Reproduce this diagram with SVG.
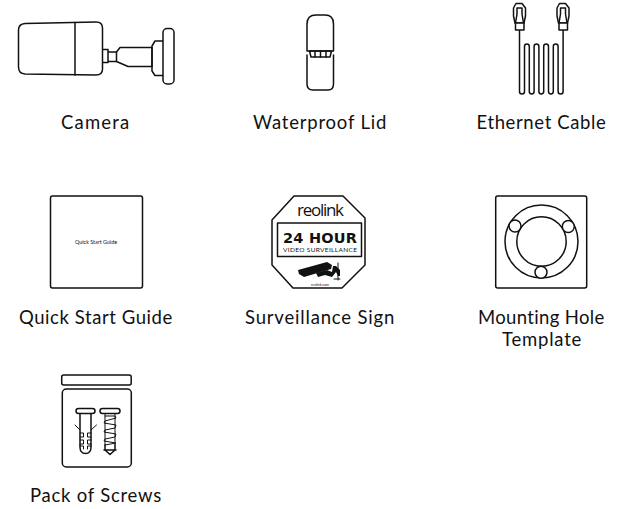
<svg xmlns="http://www.w3.org/2000/svg" width="636" height="509" viewBox="0 0 636 509">
<style>
.o{fill:none;stroke:#111;stroke-width:1.500;stroke-linejoin:round;stroke-linecap:round}
.th{fill:none;stroke:#111;stroke-width:1;stroke-linejoin:round;stroke-linecap:round}
.w{fill:#fff;stroke:#111;stroke-width:1.500;stroke-linejoin:round}
.t{font-family:"Lato","Noto Sans",sans-serif;font-size:18.500px;fill:#111;text-anchor:middle;letter-spacing:.7px}
.s{font-family:"Lato","Noto Sans",sans-serif;fill:#111;text-anchor:middle}
</style>
<rect width="636" height="509" fill="#fff"/>
<g id="camera">
<path class="o" d="M25 23.500L96 22Q102.500 22 102.500 28L102.500 69Q102.500 75 96 75L25 74Q18.500 73.500 18.500 67L18.500 30Q18.500 24 25 23.500Z"/>
<path class="o" d="M75 22.500V75"/>
<path class="o" d="M103 49.500H108V62.500H103M108 52H116.500V61.500H108"/>
<path class="o" d="M116.500 52L120 47.500H152V66.500H128L120 63L116.500 61.500"/>
<path class="o" d="M152 46L155 41H164V75.500H155L152 71Z"/>
<rect class="w" x="163" y="28.500" width="11" height="55.500" rx="4"/>
<text class="t" x="95.500" y="129" textLength="69">Camera</text>
</g>
<g id="waterproof-lid">
<path class="o" d="M307 51V24Q307 15 316 15H325Q333.500 15 333.500 24V51Z"/>
<path class="o" d="M307 55V84Q307 90 313 90H328Q333.500 90 333.500 84V55"/>
<path class="o" d="M309.500 51H331.500L330 57H311Z"/>
<path class="o" d="M315 51.500V57M320.500 51.500V57M326 51.500V57"/>
<text class="t" x="320" y="129" textLength="134">Waterproof Lid</text>
</g>
<g id="ethernet-cable">
<path class="o" d="M519.500 30V91.500A2.500 2.500 0 0 0 524.500 91.500V46.500A2.400 2.400 0 0 1 529.300 46.500V91.500A2.400 2.400 0 0 0 534.100 91.500V46.500A2.400 2.400 0 0 1 538.900 46.500V91.500A2.400 2.400 0 0 0 543.700 91.500V46.500A2.400 2.400 0 0 1 548.500 46.500V91.500A2.400 2.400 0 0 0 553.300 91.500V46.500A2.400 2.400 0 0 1 558.100 46.500V91.500A2.500 2.500 0 0 0 563.100 91.500V30"/>
<g id="plug-left">
<path class="w" d="M513.500 16V8L516 3.500H522L525.500 8V16L524 23H515Z"/>
<path class="o" d="M517 8H522V14L523.500 23M517 8V14L515.500 23"/>
<rect class="w" x="515.500" y="23" width="8.500" height="7"/>
</g>
<g id="plug-right">
<path class="w" d="M557 16V8L559.500 3.500H565.500L569 8V16L567.500 23H558.500Z"/>
<path class="o" d="M560.500 8H565.500V14L567 23M560.500 8V14L559 23"/>
<rect class="w" x="559" y="23" width="8.500" height="7"/>
</g>
<text class="t" x="541.500" y="129" textLength="130">Ethernet Cable</text>
</g>
<g id="quick-start-guide">
<rect class="o" x="50.500" y="196" width="92" height="92" rx="2"/>
<text class="s" x="96" y="244" font-size="5.400">Quick Start Guide</text>
<text class="t" x="96" y="324" textLength="154">Quick Start Guide</text>
</g>
<g id="surveillance-sign">
<path class="o" d="M272 220L294 196H343L365 218V265L342 288H293L272 265Z"/>
<rect class="o" x="277.500" y="223" width="84" height="33.500"/>
<text class="s" x="320.500" y="216" font-size="17" textLength="47" style="font-family:'Open Sans',sans-serif">reolink</text>
<text class="s" x="320" y="243" font-size="14.500" font-weight="700" textLength="74" style="font-family:'DejaVu Sans',sans-serif">24 HOUR</text>
<text class="s" x="320" y="251.500" font-size="6.500" textLength="74">VIDEO SURVEILLANCE</text>
<path fill="#111" d="M298 270L327 262L332 265L331 269L304 277L299 274Z"/>
<path fill="#111" d="M316 273L327 270L332 272L333 266H336L340 270V276H338L336 272L332 277L325 275L318 277Z"/>
<path class="th" d="M338 263V280M334 279H340"/>
<text class="s" x="320" y="286" font-size="3.500">reolink.com</text>
<text class="t" x="320" y="324" textLength="150">Surveillance Sign</text>
</g>
<g id="mounting-hole-template">
<rect class="o" x="495.700" y="196" width="91" height="92" rx="2"/>
<circle class="o" cx="541.500" cy="241.500" r="36.500"/>
<circle class="o" cx="541.500" cy="241.500" r="24.700"/>
<circle class="w" cx="515" cy="226" r="6"/>
<circle class="w" cx="568.300" cy="226.500" r="6"/>
<circle class="w" cx="541" cy="272.300" r="6"/>
<text class="t" x="541.500" y="324" textLength="127">Mounting Hole</text>
<text class="t" x="542" y="346" textLength="80">Template</text>
</g>
<g id="pack-of-screws">
<rect class="o" x="61.700" y="375" width="69.500" height="10" rx="2"/>
<rect class="o" x="62.300" y="389" width="69" height="78" rx="4"/>
<rect class="o" x="76" y="408.500" width="19" height="5" rx="2.500"/>
<path class="o" d="M80 413.500V447Q80 453.500 85.500 453.500Q91 453.500 91 447V413.500"/>
<path class="th" d="M75 425L80 430M96.500 425L91 430"/>
<path class="th" d="M80 433H83.500V437H80M80 440H83.500V444H80M80 446H83.500V449M91 433H87.500V437H91M91 440H87.500V444H91M91 446H87.500V449"/>
<rect class="o" x="100" y="408.500" width="20" height="5" rx="2.500"/>
<path class="th" d="M105 413.500V445M115 413.500V445"/>
<path class="o" d="M105 445V450L110 454.500L115 450V445M104 450H116"/>
<path class="th" d="M105 416H115L116 418L105 421L104 423L116 425L115 428L105 430L104 432L116 434L115 437L105 439L104 441L116 443L105 445"/>
<text class="t" x="96" y="502" textLength="132">Pack of Screws</text>
</g>
</svg>
